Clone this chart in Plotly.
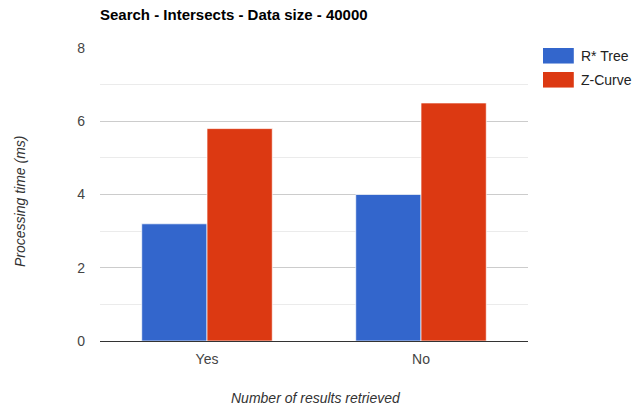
import plotly.graph_objects as go

# Query benchmark: intersects search over 40000 records
categories = ["Yes", "No"]
series_names = ["R* Tree", "Z-Curve"]
rstar_ms = [3.2, 4.0]
zcurve_ms = [5.8, 6.5]
y_ticks = [0, 2, 4, 6, 8]

colors = ["#3366CC", "#DC3912"]
FONT = "Liberation Sans, Arial, sans-serif"
W, H = 636, 408
M = dict(l=100, r=108, t=48, b=67)

fig = go.Figure()
for name, vals, col in zip(series_names, [rstar_ms, zcurve_ms], colors):
    fig.add_trace(go.Bar(
        x=categories, y=vals, name=name,
        marker=dict(color=col, line=dict(color="rgba(255,255,255,0.7)", width=1)),
        showlegend=False,
    ))

# Hand-built legend: wide colour swatches with labels
for i, (name, col) in enumerate(zip(series_names, colors)):
    y0 = 1.0 - i * 0.082
    fig.add_shape(type="rect", xref="paper", yref="paper",
                  x0=1.035, x1=1.107, y0=y0 - 0.053, y1=y0,
                  fillcolor=col, line=dict(width=0))
    fig.add_annotation(xref="paper", yref="paper", x=1.118, y=y0 - 0.026,
                       text=name, showarrow=False, xanchor="left", yanchor="middle",
                       font=dict(family=FONT, size=14, color="#222222"))

# Axis titles placed as annotations so the plot area stays fixed
plot_h = H - M["t"] - M["b"]
plot_w = W - M["l"] - M["r"]
fig.add_annotation(xref="paper", yref="paper",
                   x=(316 - M["l"]) / plot_w, y=-(398 - (H - M["b"])) / plot_h,
                   text="<i>Number of results retrieved</i>", showarrow=False,
                   xanchor="center", yanchor="middle",
                   font=dict(family=FONT, size=14, color="#333333"))
fig.add_annotation(xref="paper", yref="paper",
                   x=-(M["l"] - 20) / plot_w, y=(H - M["b"] - 202) / plot_h,
                   text="<i>Processing time (ms)</i>", showarrow=False, textangle=-90,
                   xanchor="center", yanchor="middle",
                   font=dict(family=FONT, size=14, color="#333333"))

fig.update_layout(
    width=W, height=H,
    margin=M,
    paper_bgcolor="white", plot_bgcolor="white",
    barmode="group", bargap=0.39, bargroupgap=0.0,
    title=dict(text="<b>Search - Intersects - Data size - 40000</b>",
               x=100 / W, xanchor="left", y=1 - 15 / H, yanchor="middle",
               font=dict(family=FONT, size=15, color="#000000")),
    font=dict(family=FONT, size=14, color="#444444"),
)

fig.update_xaxes(
    showgrid=False, showline=False, ticks="", automargin=False,
    ticklabelstandoff=8,
    tickfont=dict(family=FONT, size=14, color="#444444"),
)
fig.update_yaxes(
    range=[0, 8], tickvals=y_ticks, ticktext=[str(v) for v in y_ticks],
    showgrid=True, gridcolor="#cccccc", gridwidth=1,
    minor=dict(dtick=1, showgrid=True, gridcolor="#ebebeb", gridwidth=1),
    zeroline=True, zerolinecolor="#333333", zerolinewidth=1,
    showline=False, ticks="", ticklabelstandoff=14, automargin=False,
    tickfont=dict(family=FONT, size=14, color="#444444"),
)

fig.write_html("out.html")
